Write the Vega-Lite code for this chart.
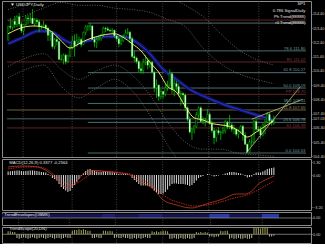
{
"$schema": "https://vega.github.io/schema/vega-lite/v6.json",
"background": "#000000",
"padding": 0,
"spacing": 2,
"bounds": "flush",
"resolve": {"scale": {"color": "independent", "fill": "independent"}},
"config": {
 "view": {"stroke": "#8a8a8a", "strokeWidth": 1, "fill": "#000000"},
 "axis": {"labelFont": "Liberation Sans", "labelFontSize": 3.8, "labelColor": "#c8c8c8", "tickColor": "#8a8a8a", "tickSize": 1, "labelPadding": 0.5, "domain": false, "grid": false, "title": null},
 "text": {"font": "Liberation Sans"},
 "legend": {"disable": true}
},
"datasets": {
 "sep": [{"i":6.75},{"i":28.9},{"i":49},{"i":69.8},{"i":90.6},{"i":113.2}],
 "c": [
 {"i":0,"o":112.55,"h":113.57,"l":112.52,"c":113.52,"m":0.35,"t":0.4},
 {"i":1,"o":113.52,"h":114.1,"l":113.3,"c":113.45,"m":0.38,"t":0.4},
 {"i":2,"o":113.45,"h":113.9,"l":113.25,"c":113.88,"m":0.40,"t":0.3},
 {"i":3,"o":113.88,"h":114.25,"l":113.4,"c":113.65,"m":0.42,"t":0.3},
 {"i":4,"o":113.65,"h":114.3,"l":113.45,"c":114.2,"m":0.45,"t":-0.5},
 {"i":5,"o":114.2,"h":114.45,"l":113.5,"c":113.68,"m":0.45,"t":-0.6},
 {"i":6,"o":113.68,"h":113.85,"l":113.05,"c":113.2,"m":0.40,"t":-0.5},
 {"i":7,"o":113.2,"h":113.7,"l":112.9,"c":113.65,"m":0.38,"t":-0.4},
 {"i":8,"o":113.65,"h":114.3,"l":113.55,"c":114.1,"m":0.40,"t":-0.5},
 {"i":9,"o":114.1,"h":114.3,"l":113.65,"c":114.05,"m":0.42,"t":-0.6},
 {"i":10,"o":114.05,"h":114.45,"l":113.75,"c":114.05,"m":0.45,"t":-0.5},
 {"i":11,"o":114.1,"h":114.73,"l":113.7,"c":113.7,"m":0.45,"t":-0.4},
 {"i":12,"o":113.7,"h":114.1,"l":113.5,"c":113.95,"m":0.42,"t":-0.5},
 {"i":13,"o":113.95,"h":114.1,"l":113.65,"c":113.85,"m":0.40,"t":-0.6},
 {"i":14,"o":113.85,"h":114.0,"l":113.1,"c":113.5,"m":0.35,"t":-0.5},
 {"i":15,"o":113.5,"h":113.65,"l":113.3,"c":113.5,"m":0.30,"t":-0.4},
 {"i":16,"o":113.5,"h":113.9,"l":113.4,"c":113.6,"m":0.28,"t":-0.5},
 {"i":17,"o":113.6,"h":113.7,"l":113.2,"c":113.4,"m":0.25,"t":-0.6},
 {"i":18,"o":113.4,"h":113.5,"l":112.5,"c":112.9,"m":0.10,"t":-0.5},
 {"i":19,"o":112.9,"h":113.2,"l":112.5,"c":113.05,"m":-0.05,"t":-0.4},
 {"i":20,"o":113.05,"h":113.2,"l":111.95,"c":112.1,"m":-0.30,"t":-0.5},
 {"i":21,"o":112.1,"h":112.7,"l":111.9,"c":112.6,"m":-0.40,"t":-0.6},
 {"i":22,"o":112.6,"h":112.85,"l":112.2,"c":112.45,"m":-0.55,"t":-0.5},
 {"i":23,"o":112.45,"h":112.5,"l":111.2,"c":111.2,"m":-0.90,"t":-0.5},
 {"i":24,"o":111.2,"h":111.55,"l":111.1,"c":111.2,"m":-1.20,"t":-0.6},
 {"i":25,"o":111.2,"h":111.6,"l":110.85,"c":111.5,"m":-1.40,"t":-0.5},
 {"i":26,"o":111.5,"h":111.6,"l":110.85,"c":111.05,"m":-1.55,"t":-0.4},
 {"i":27,"o":111.05,"h":111.55,"l":110.95,"c":111.45,"m":-1.70,"t":-0.5},
 {"i":28,"o":111.45,"h":112.2,"l":111.35,"c":112.0,"m":-1.60,"t":-0.5},
 {"i":29,"o":112.0,"h":112.85,"l":111.9,"c":112.5,"m":-1.30,"t":0.5},
 {"i":30,"o":112.5,"h":112.95,"l":111.4,"c":112.15,"m":-1.00,"t":0.6},
 {"i":31,"o":112.15,"h":113.0,"l":112.1,"c":112.5,"m":-0.70,"t":0.6},
 {"i":32,"o":112.5,"h":112.8,"l":112.3,"c":112.6,"m":-0.40,"t":0.7},
 {"i":33,"o":112.6,"h":112.7,"l":112.05,"c":112.25,"m":-0.10,"t":0.6},
 {"i":34,"o":112.25,"h":113.15,"l":112.2,"c":113.1,"m":0.20,"t":0.7},
 {"i":35,"o":113.1,"h":113.6,"l":112.9,"c":113.5,"m":0.40,"t":0.6},
 {"i":36,"o":113.5,"h":113.6,"l":113.2,"c":113.55,"m":0.55,"t":0.5},
 {"i":37,"o":113.55,"h":113.75,"l":113.25,"c":113.55,"m":0.60,"t":0.5},
 {"i":38,"o":113.55,"h":113.6,"l":112.6,"c":112.6,"m":0.50,"t":-0.5},
 {"i":39,"o":112.6,"h":112.8,"l":112.05,"c":112.4,"m":0.40,"t":-0.5},
 {"i":40,"o":112.4,"h":112.8,"l":112.0,"c":112.6,"m":0.35,"t":-0.4},
 {"i":41,"o":112.6,"h":112.9,"l":112.5,"c":112.65,"m":0.30,"t":-0.5},
 {"i":42,"o":112.65,"h":113.0,"l":112.5,"c":112.9,"m":0.30,"t":-0.5},
 {"i":43,"o":112.9,"h":113.5,"l":112.8,"c":113.4,"m":0.35,"t":0.5},
 {"i":44,"o":113.4,"h":113.5,"l":113.1,"c":113.35,"m":0.35,"t":0.5},
 {"i":45,"o":113.35,"h":113.5,"l":113.2,"c":113.25,"m":0.32,"t":0.4},
 {"i":46,"o":113.25,"h":113.35,"l":113.1,"c":113.2,"m":0.30,"t":0.5},
 {"i":47,"o":113.2,"h":113.4,"l":113.0,"c":113.25,"m":0.28,"t":0.4},
 {"i":48,"o":113.25,"h":113.3,"l":112.7,"c":112.85,"m":0.22,"t":-0.5},
 {"i":49,"o":112.85,"h":112.9,"l":112.5,"c":112.65,"m":0.18,"t":-0.4},
 {"i":50,"o":112.65,"h":112.8,"l":112.05,"c":112.3,"m":0.10,"t":-0.5},
 {"i":51,"o":112.3,"h":112.8,"l":112.2,"c":112.5,"m":0.08,"t":-0.5},
 {"i":52,"o":112.5,"h":112.95,"l":112.45,"c":112.75,"m":0.10,"t":-0.4},
 {"i":53,"o":112.75,"h":113.3,"l":112.7,"c":113.05,"m":0.12,"t":-0.5},
 {"i":54,"o":113.05,"h":113.4,"l":112.95,"c":113.1,"m":0.10,"t":-0.5},
 {"i":55,"o":113.1,"h":113.2,"l":112.35,"c":112.65,"m":0.00,"t":-0.6},
 {"i":56,"o":112.65,"h":112.8,"l":111.3,"c":111.4,"m":-0.30,"t":-0.6},
 {"i":57,"o":111.4,"h":111.8,"l":111.0,"c":111.3,"m":-0.50,"t":-0.5},
 {"i":58,"o":111.3,"h":111.4,"l":110.9,"c":111.05,"m":-0.70,"t":-0.6},
 {"i":59,"o":111.05,"h":111.15,"l":110.3,"c":110.55,"m":-0.90,"t":-0.5},
 {"i":60,"o":110.55,"h":110.95,"l":110.2,"c":110.4,"m":-1.05,"t":-0.6},
 {"i":61,"o":110.4,"h":111.25,"l":110.2,"c":111.0,"m":-1.05,"t":-0.5},
 {"i":62,"o":111.0,"h":111.5,"l":110.8,"c":111.1,"m":-1.05,"t":-0.4},
 {"i":63,"o":111.1,"h":111.3,"l":110.5,"c":110.8,"m":-1.10,"t":-0.5},
 {"i":64,"o":110.8,"h":111.2,"l":110.6,"c":111.0,"m":-1.15,"t":-0.5},
 {"i":65,"o":111.0,"h":111.1,"l":110.2,"c":110.3,"m":-1.30,"t":0.4},
 {"i":66,"o":110.3,"h":110.4,"l":108.9,"c":109.2,"m":-1.60,"t":0.3},
 {"i":67,"o":109.2,"h":109.8,"l":108.5,"c":109.4,"m":-1.75,"t":0.4},
 {"i":68,"o":109.4,"h":109.45,"l":108.3,"c":108.6,"m":-1.90,"t":0.3},
 {"i":69,"o":108.6,"h":109.1,"l":108.4,"c":108.95,"m":-1.90,"t":0.4},
 {"i":70,"o":108.95,"h":109.0,"l":108.45,"c":108.75,"m":-1.85,"t":0.5},
 {"i":71,"o":108.75,"h":109.5,"l":108.6,"c":109.2,"m":-1.70,"t":0.5},
 {"i":72,"o":109.2,"h":109.7,"l":109.0,"c":109.4,"m":-1.45,"t":0.4},
 {"i":73,"o":109.4,"h":110.5,"l":109.3,"c":110.2,"m":-1.10,"t":-0.6},
 {"i":74,"o":110.2,"h":110.3,"l":108.8,"c":109.1,"m":-0.90,"t":-0.6},
 {"i":75,"o":109.1,"h":109.8,"l":108.6,"c":109.5,"m":-0.85,"t":-0.5},
 {"i":76,"o":109.5,"h":109.7,"l":109.0,"c":109.3,"m":-0.85,"t":-0.6},
 {"i":77,"o":109.3,"h":109.5,"l":108.6,"c":108.8,"m":-0.90,"t":-0.6},
 {"i":78,"o":108.8,"h":109.0,"l":107.95,"c":108.8,"m":-0.90,"t":-0.5},
 {"i":79,"o":108.8,"h":108.9,"l":108.3,"c":108.7,"m":-0.90,"t":-0.6},
 {"i":80,"o":108.7,"h":108.8,"l":107.6,"c":107.8,"m":-0.95,"t":-0.6},
 {"i":81,"o":107.8,"h":107.9,"l":106.85,"c":107.0,"m":-1.00,"t":-0.5},
 {"i":82,"o":107.0,"h":107.2,"l":106.0,"c":106.1,"m":-1.10,"t":-0.6},
 {"i":83,"o":106.1,"h":106.4,"l":105.55,"c":106.3,"m":-1.00,"t":-0.6},
 {"i":84,"o":106.3,"h":106.6,"l":106.0,"c":106.5,"m":-0.80,"t":-0.5},
 {"i":85,"o":106.5,"h":107.5,"l":106.4,"c":107.3,"m":-0.55,"t":0.3},
 {"i":86,"o":107.3,"h":107.9,"l":107.1,"c":107.8,"m":-0.30,"t":0.2},
 {"i":87,"o":107.8,"h":107.9,"l":106.8,"c":106.85,"m":-0.20,"t":0.3},
 {"i":88,"o":106.85,"h":107.2,"l":106.65,"c":106.9,"m":-0.10,"t":0.2},
 {"i":89,"o":106.9,"h":107.1,"l":106.5,"c":106.95,"m":0.00,"t":0.3},
 {"i":90,"o":106.95,"h":107.7,"l":106.9,"c":107.35,"m":0.10,"t":0.2},
 {"i":91,"o":107.35,"h":107.5,"l":106.6,"c":106.7,"m":0.05,"t":-0.3},
 {"i":92,"o":106.7,"h":106.9,"l":106.05,"c":106.2,"m":-0.05,"t":-0.3},
 {"i":93,"o":106.2,"h":106.4,"l":105.25,"c":105.7,"m":-0.15,"t":-0.4},
 {"i":94,"o":105.7,"h":106.3,"l":105.4,"c":106.2,"m":-0.10,"t":-0.3},
 {"i":95,"o":106.2,"h":106.45,"l":105.9,"c":106.05,"m":-0.05,"t":-0.3},
 {"i":96,"o":106.05,"h":106.2,"l":105.55,"c":106.1,"m":0.00,"t":0.5},
 {"i":97,"o":106.1,"h":106.45,"l":105.95,"c":106.2,"m":0.05,"t":0.4},
 {"i":98,"o":106.2,"h":106.95,"l":106.0,"c":106.8,"m":0.15,"t":0.5},
 {"i":99,"o":106.8,"h":106.9,"l":106.3,"c":106.45,"m":0.20,"t":0.5},
 {"i":100,"o":106.45,"h":107.3,"l":106.3,"c":106.6,"m":0.30,"t":-0.6},
 {"i":101,"o":106.6,"h":106.75,"l":106.1,"c":106.3,"m":0.30,"t":-0.5},
 {"i":102,"o":106.3,"h":106.6,"l":105.95,"c":106.3,"m":0.30,"t":-0.6},
 {"i":103,"o":106.3,"h":106.35,"l":105.8,"c":105.95,"m":0.25,"t":-0.6},
 {"i":104,"o":105.95,"h":106.3,"l":105.65,"c":106.1,"m":0.20,"t":-0.5},
 {"i":105,"o":106.1,"h":106.6,"l":106.0,"c":106.5,"m":0.15,"t":-0.6},
 {"i":106,"o":106.5,"h":106.6,"l":105.5,"c":105.9,"m":0.05,"t":-0.6},
 {"i":107,"o":105.9,"h":106.1,"l":105.2,"c":105.25,"m":-0.10,"t":-0.5},
 {"i":108,"o":105.25,"h":105.3,"l":104.63,"c":104.7,"m":-0.25,"t":-0.6},
 {"i":109,"o":104.7,"h":105.6,"l":104.65,"c":105.4,"m":-0.20,"t":-0.6},
 {"i":110,"o":105.4,"h":105.9,"l":105.1,"c":105.4,"m":-0.15,"t":-0.5},
 {"i":111,"o":105.4,"h":106.95,"l":105.3,"c":106.85,"m":0.10,"t":1.0},
 {"i":112,"o":106.85,"h":107.0,"l":106.2,"c":106.3,"m":0.25,"t":0.9},
 {"i":113,"o":106.3,"h":106.5,"l":106.1,"c":106.25,"m":0.25,"t":1.0},
 {"i":114,"o":106.25,"h":106.5,"l":105.65,"c":105.9,"m":0.25,"t":0.8},
 {"i":115,"o":105.9,"h":106.7,"l":105.8,"c":106.6,"m":0.35,"t":1.0},
 {"i":116,"o":106.6,"h":107.0,"l":105.95,"c":106.8,"m":0.45,"t":1.0},
 {"i":117,"o":106.8,"h":107.5,"l":106.75,"c":107.35,"m":0.60,"t":0.9},
 {"i":118,"o":107.35,"h":107.45,"l":106.65,"c":106.9,"m":0.65,"t":-0.3},
 {"i":119,"o":106.9,"h":107.0,"l":106.55,"c":106.75,"m":0.70,"t":-0.3},
 {"i":120,"o":106.75,"h":107.25,"l":106.6,"c":107.03,"m":0.75,"t":-0.2}
 ],
 "ma": [
 {"i":0,"v":113.0},{"i":4,"v":113.3},{"i":8,"v":113.5},{"i":12,"v":113.55},{"i":16,"v":113.45},{"i":20,"v":113.1},{"i":24,"v":112.5},{"i":28,"v":112.0},{"i":32,"v":112.3},{"i":36,"v":112.6},{"i":40,"v":112.8},{"i":44,"v":112.95},{"i":48,"v":113.0},{"i":52,"v":112.75},{"i":56,"v":112.3},{"i":60,"v":111.8},{"i":64,"v":111.0},{"i":68,"v":110.3},{"i":72,"v":109.3},{"i":76,"v":108.9},{"i":80,"v":107.9},{"i":84,"v":107.1},{"i":88,"v":106.95},{"i":92,"v":106.7},{"i":96,"v":106.6},{"i":100,"v":106.5},{"i":104,"v":106.2},{"i":108,"v":105.75},{"i":112,"v":106.1},{"i":116,"v":106.5},{"i":120,"v":106.9}
 ],
 "blue": [
 {"i":0,"v":112.3},{"i":6,"v":112.7},{"i":14,"v":113.2},{"i":20,"v":113.1},{"i":26,"v":112.5},{"i":30,"v":112.3},{"i":36,"v":112.5},{"i":44,"v":112.8},{"i":52,"v":112.8},{"i":58,"v":112.4},{"i":64,"v":111.6},{"i":70,"v":110.5},{"i":76,"v":109.8},{"i":82,"v":109.1},{"i":90,"v":108.5},{"i":98,"v":108.0},{"i":104,"v":107.7},{"i":112,"v":107.3},{"i":120,"v":106.95}
 ],
 "band": [
 {"s":"u1","i":0,"v":113.9},{"s":"u1","i":8,"v":114.3},{"s":"u1","i":16,"v":114.8},{"s":"u1","i":24,"v":115.2},{"s":"u1","i":32,"v":115.0},{"s":"u1","i":40,"v":115.0},{"s":"u1","i":48,"v":114.8},{"s":"u1","i":56,"v":114.7},{"s":"u1","i":64,"v":114.5},{"s":"u1","i":72,"v":114.0},{"s":"u1","i":80,"v":113.5},{"s":"u1","i":88,"v":112.0},{"s":"u1","i":96,"v":110.9},{"s":"u1","i":104,"v":110.2},{"s":"u1","i":112,"v":109.8},{"s":"u1","i":120,"v":109.5},
 {"s":"u2","i":0,"v":114.7},{"s":"u2","i":8,"v":115.1},{"s":"u2","i":16,"v":115.6},{"s":"u2","i":24,"v":116.4},{"s":"u2","i":32,"v":116.3},{"s":"u2","i":40,"v":116.1},{"s":"u2","i":48,"v":115.8},{"s":"u2","i":56,"v":115.8},{"s":"u2","i":64,"v":115.9},{"s":"u2","i":72,"v":115.6},{"s":"u2","i":80,"v":115.0},{"s":"u2","i":88,"v":114.2},{"s":"u2","i":96,"v":113.0},{"s":"u2","i":104,"v":111.9},{"s":"u2","i":112,"v":111.2},{"s":"u2","i":120,"v":110.8},
 {"s":"l1","i":0,"v":110.7},{"s":"l1","i":8,"v":111.3},{"s":"l1","i":16,"v":111.6},{"s":"l1","i":24,"v":110.5},{"s":"l1","i":32,"v":109.8},{"s":"l1","i":40,"v":110.4},{"s":"l1","i":48,"v":110.8},{"s":"l1","i":56,"v":110.1},{"s":"l1","i":64,"v":108.7},{"s":"l1","i":72,"v":106.8},{"s":"l1","i":80,"v":105.4},{"s":"l1","i":88,"v":104.9},{"s":"l1","i":96,"v":104.9},{"s":"l1","i":104,"v":104.6},{"s":"l1","i":112,"v":104.5},{"s":"l1","i":120,"v":104.4},
 {"s":"l2","i":0,"v":109.9},{"s":"l2","i":8,"v":110.5},{"s":"l2","i":16,"v":110.8},{"s":"l2","i":24,"v":109.3},{"s":"l2","i":32,"v":108.5},{"s":"l2","i":40,"v":109.2},{"s":"l2","i":48,"v":109.8},{"s":"l2","i":56,"v":109.0},{"s":"l2","i":64,"v":107.3},{"s":"l2","i":72,"v":105.2},{"s":"l2","i":80,"v":103.6},{"s":"l2","i":88,"v":103.0},{"s":"l2","i":96,"v":103.0},{"s":"l2","i":104,"v":103.0},{"s":"l2","i":112,"v":103.0},{"s":"l2","i":120,"v":103.0}
 ],
 "lv": [
 {"i":-0.5,"p":113.96,"k":"piv","lab":""},
 {"i":36,"p":113.75,"k":"fib","lab":""},
 {"i":36,"p":111.80,"k":"fib","lab":"78.6 111.80"},
 {"i":-0.5,"p":111.02,"k":"piv","lab":"R1 111.02"},
 {"i":36,"p":110.27,"k":"fib","lab":"61.8 110.27"},
 {"i":36,"p":109.19,"k":"fib","lab":"50.0 109.19"},
 {"i":-0.5,"p":108.75,"k":"piv","lab":"PP 108.75"},
 {"i":36,"p":108.11,"k":"fib","lab":"38.2 108.11"},
 {"i":-0.5,"p":107.65,"k":"alt","lab":"61.8 107.65"},
 {"i":-0.5,"p":107.03,"k":"bid","lab":""},
 {"i":36,"p":106.78,"k":"fib","lab":"23.6 106.78"},
 {"i":-0.5,"p":106.39,"k":"piv","lab":"S1 106.39"},
 {"i":36,"p":104.63,"k":"fib","lab":"0.0 104.63"}
 ],
 "tl": [
 {"g":"a","i":107.5,"p":104.63},{"g":"a","i":132,"p":109.3},
 {"g":"b","i":110,"p":107.0},{"g":"b","i":133,"p":108.4}
 ],
 "txl": [{"i":1,"p":115.0,"t":"▼ USDJPY,Daily"}],
 "txr": [
 {"i":134.2,"p":115.08,"t":"SP1"},
 {"i":134.2,"p":114.62,"t":"0.786 SignalDaily"},
 {"i":134.2,"p":114.17,"t":"Ph Trend(88888)"},
 {"i":134.2,"p":113.74,"t":"r0 Trend(88888)"}
 ],
 "sig": [
 {"s":"S","i":0,"v":0.8},{"s":"S","i":6,"v":0.9},{"s":"S","i":12,"v":0.85},{"s":"S","i":16,"v":0.6},{"s":"S","i":20,"v":0.0},{"s":"S","i":24,"v":-0.9},{"s":"S","i":27,"v":-1.3},{"s":"S","i":30,"v":-0.9},{"s":"S","i":33,"v":-0.1},{"s":"S","i":36,"v":0.4},{"s":"S","i":40,"v":0.45},{"s":"S","i":46,"v":0.3},{"s":"S","i":52,"v":0.15},{"s":"S","i":55,"v":0.0},{"s":"S","i":58,"v":-0.5},{"s":"S","i":62,"v":-0.9},{"s":"S","i":66,"v":-1.5},{"s":"S","i":70,"v":-2.5},{"s":"S","i":76,"v":-3.0},{"s":"S","i":83,"v":-3.3},{"s":"S","i":88,"v":-3.0},{"s":"S","i":91,"v":-2.8},{"s":"S","i":97,"v":-2.4},{"s":"S","i":103,"v":-1.9},{"s":"S","i":107,"v":-1.9},{"s":"S","i":110,"v":-1.6},{"s":"S","i":113,"v":-0.9},{"s":"S","i":117,"v":-0.4},{"s":"S","i":120,"v":-0.1},
 {"s":"D","i":0,"v":0.6},{"s":"D","i":8,"v":0.8},{"s":"D","i":14,"v":0.8},{"s":"D","i":18,"v":0.5},{"s":"D","i":22,"v":-0.2},{"s":"D","i":26,"v":-0.8},{"s":"D","i":29,"v":-1.0},{"s":"D","i":32,"v":-0.7},{"s":"D","i":36,"v":-0.1},{"s":"D","i":40,"v":0.3},{"s":"D","i":46,"v":0.35},{"s":"D","i":52,"v":0.2},{"s":"D","i":56,"v":0.05},{"s":"D","i":60,"v":-0.4},{"s":"D","i":64,"v":-0.9},{"s":"D","i":68,"v":-1.6},{"s":"D","i":72,"v":-2.3},{"s":"D","i":78,"v":-2.8},{"s":"D","i":84,"v":-3.1},{"s":"D","i":90,"v":-3.0},{"s":"D","i":96,"v":-2.7},{"s":"D","i":102,"v":-2.3},{"s":"D","i":108,"v":-2.0},{"s":"D","i":112,"v":-1.6},{"s":"D","i":116,"v":-1.1},{"s":"D","i":120,"v":-0.6}
 ],
 "seg": [
 {"a":-0.5,"b":43,"z":"d"},{"a":43,"b":49,"z":"m"},{"a":49,"b":59,"z":"d"},{"a":59,"b":70,"z":"m"},{"a":70,"b":90,"z":"d"},{"a":90,"b":99,"z":"b"},{"a":99,"b":113,"z":"d"},{"a":113,"b":120.5,"z":"b"}
 ],
 "p2": [{"i":0.5,"v":0.77,"t":"TrendEnvelopes(OBMK)"}],
 "p3": [{"i":0.5,"v":0.72,"t":"TrendScope(20,DN)"}],
 "p1": [{"i":0.5,"v":1.25,"t":"MACD(12,26,9) 0.3377 -0.2564"}]
},
"vconcat": [
 {
  "width": 309, "height": 156,
  "encoding": {
   "y": {"type": "quantitative", "scale": {"domain": [104.35, 115.3], "nice": false, "zero": false},
    "axis": {"orient": "right", "values": [104.4, 105.4, 106.4, 107.03, 107.4, 108.4, 109.4, 110.4, 111.4, 112.4, 113.4, 114.4], "format": ".2f", "labelOverlap": false}}
  },
  "layer": [
   {"data": {"name": "sep"}, "mark": {"type": "rule", "color": "#6e6e6e", "strokeWidth": 0.6, "strokeDash": [1, 1.5]},
    "encoding": {"x": {"field": "i", "type": "quantitative", "scale": {"domain": [-0.5, 134.5], "nice": false, "zero": false}, "axis": null}, "y": null}},
   {"data": {"name": "band"}, "mark": {"type": "line", "color": "#9a9a9a", "strokeWidth": 0.6, "strokeDash": [1, 1.5], "interpolate": "monotone", "clip": true},
    "encoding": {"x": {"field": "i", "type": "quantitative", "scale": {"domain": [-0.5, 134.5], "nice": false, "zero": false}, "axis": null},
     "y": {"field": "v"}, "detail": {"field": "s"}}},
   {"data": {"name": "lv"}, "mark": {"type": "rule", "strokeWidth": 0.7},
    "encoding": {"x": {"field": "i", "type": "quantitative", "scale": {"domain": [-0.5, 134.5], "nice": false, "zero": false}, "axis": null},
     "x2": {"datum": 134.5},
     "y": {"field": "p"},
     "color": {"field": "k", "type": "nominal", "scale": {"domain": ["fib", "piv", "alt", "bid"], "range": ["#6c9c9c", "#8a3434", "#9c8c5c", "#778899"]}}}},
   {"data": {"name": "blue"}, "mark": {"type": "line", "color": "#14146e", "strokeWidth": 3.5, "interpolate": "monotone"},
    "encoding": {"x": {"field": "i", "type": "quantitative", "scale": {"domain": [-0.5, 134.5], "nice": false, "zero": false}, "axis": null},
     "y": {"field": "v"}}},
   {"data": {"name": "blue"}, "mark": {"type": "line", "color": "#2a40d8", "strokeWidth": 0.8, "interpolate": "monotone"},
    "encoding": {"x": {"field": "i", "type": "quantitative", "scale": {"domain": [-0.5, 134.5], "nice": false, "zero": false}, "axis": null},
     "y": {"field": "v"}}},
   {"data": {"name": "c"}, "mark": {"type": "rule", "color": "#00dd00", "strokeWidth": 0.7},
    "encoding": {"x": {"field": "i", "type": "quantitative", "scale": {"domain": [-0.5, 134.5], "nice": false, "zero": false}, "axis": null},
     "y": {"field": "l"}, "y2": {"field": "h"}}},
   {"data": {"name": "c"}, "mark": {"type": "bar", "width": 1.5, "stroke": "#00dd00", "strokeWidth": 0.4},
    "encoding": {"x": {"field": "i", "type": "quantitative", "scale": {"domain": [-0.5, 134.5], "nice": false, "zero": false}, "axis": null},
     "y": {"field": "o"}, "y2": {"field": "c"},
     "fill": {"condition": {"test": "datum.c < datum.o", "value": "#ffffff"}, "value": "#000000"}}},
   {"data": {"name": "ma"}, "mark": {"type": "line", "color": "#ffff70", "strokeWidth": 0.9, "interpolate": "monotone"},
    "encoding": {"x": {"field": "i", "type": "quantitative", "scale": {"domain": [-0.5, 134.5], "nice": false, "zero": false}, "axis": null},
     "y": {"field": "v"}}},
   {"data": {"name": "tl"}, "mark": {"type": "line", "color": "#d8d890", "strokeWidth": 0.7, "clip": true},
    "encoding": {"x": {"field": "i", "type": "quantitative", "scale": {"domain": [-0.5, 134.5], "nice": false, "zero": false}, "axis": null},
     "y": {"field": "p"}, "detail": {"field": "g"}}},
   {"data": {"name": "lv"}, "mark": {"type": "text", "align": "right", "baseline": "bottom", "dy": -0.3, "fontSize": 4.2},
    "encoding": {"x": {"datum": 134.2, "type": "quantitative", "scale": {"domain": [-0.5, 134.5], "nice": false, "zero": false}, "axis": null},
     "y": {"field": "p"}, "text": {"field": "lab"},
     "color": {"field": "k", "type": "nominal"}}},
   {"data": {"name": "txl"}, "mark": {"type": "text", "align": "left", "baseline": "middle", "fontSize": 4.4, "color": "#e8e8e8"},
    "encoding": {"x": {"field": "i", "type": "quantitative", "scale": {"domain": [-0.5, 134.5], "nice": false, "zero": false}, "axis": null},
     "y": {"field": "p"}, "text": {"field": "t"}}},
   {"data": {"name": "txr"}, "mark": {"type": "text", "align": "right", "baseline": "middle", "fontSize": 4.2, "color": "#e8e8e8"},
    "encoding": {"x": {"field": "i", "type": "quantitative", "scale": {"domain": [-0.5, 134.5], "nice": false, "zero": false}, "axis": null},
     "y": {"field": "p"}, "text": {"field": "t"}}}
  ]
 },
 {
  "width": 309, "height": 51,
  "encoding": {
   "y": {"type": "quantitative", "scale": {"domain": [-3.5, 1.6], "nice": false, "zero": false},
    "axis": {"orient": "right", "values": [1.3, 0, -3.2], "format": ".2f"}}
  },
  "layer": [
   {"data": {"name": "sep"}, "mark": {"type": "rule", "color": "#6e6e6e", "strokeWidth": 0.6, "strokeDash": [1, 1.5]},
    "encoding": {"x": {"field": "i", "type": "quantitative", "scale": {"domain": [-0.5, 134.5], "nice": false, "zero": false}, "axis": null}, "y": null}},
   {"data": {"name": "c"}, "mark": {"type": "bar", "width": 1.0, "color": "#d8d8d8"},
    "encoding": {"x": {"field": "i", "type": "quantitative", "scale": {"domain": [-0.5, 134.5], "nice": false, "zero": false}, "axis": null},
     "y": {"field": "m"}, "y2": {"datum": 0}}},
   {"data": {"name": "sig"}, "transform": [{"filter": "datum.s == 'S'"}], "mark": {"type": "line", "color": "#b8401c", "strokeWidth": 0.8, "interpolate": "monotone"},
    "encoding": {"x": {"field": "i", "type": "quantitative", "scale": {"domain": [-0.5, 134.5], "nice": false, "zero": false}, "axis": null},
     "y": {"field": "v"}}},
   {"data": {"name": "sig"}, "transform": [{"filter": "datum.s == 'D'"}], "mark": {"type": "line", "color": "#ff3030", "strokeWidth": 0.7, "strokeDash": [1.5, 1], "interpolate": "monotone"},
    "encoding": {"x": {"field": "i", "type": "quantitative", "scale": {"domain": [-0.5, 134.5], "nice": false, "zero": false}, "axis": null},
     "y": {"field": "v"}}},
   {"data": {"name": "p1"}, "mark": {"type": "text", "align": "left", "baseline": "middle", "fontSize": 4.2, "color": "#e0e0e0"},
    "encoding": {"x": {"field": "i", "type": "quantitative", "scale": {"domain": [-0.5, 134.5], "nice": false, "zero": false}, "axis": null},
     "y": {"field": "v"}, "text": {"field": "t"}}}
  ]
 },
 {
  "width": 309, "height": 13,
  "encoding": {
   "y": {"type": "quantitative", "scale": {"domain": [0, 1], "nice": false, "zero": false},
    "axis": {"orient": "right", "values": [0.54], "labelExpr": "'0.00'"}}
  },
  "layer": [
   {"data": {"name": "sep"}, "mark": {"type": "rule", "color": "#6e6e6e", "strokeWidth": 0.6, "strokeDash": [1, 1.5]},
    "encoding": {"x": {"field": "i", "type": "quantitative", "scale": {"domain": [-0.5, 134.5], "nice": false, "zero": false}, "axis": null}, "y": null}},
   {"data": {"name": "seg"}, "mark": {"type": "rect"},
    "encoding": {"x": {"field": "a", "type": "quantitative", "scale": {"domain": [-0.5, 134.5], "nice": false, "zero": false}, "axis": null},
     "x2": {"field": "b"},
     "y": {"datum": 0.54}, "y2": {"datum": 0.86},
     "color": {"field": "z", "type": "nominal", "scale": {"domain": ["d", "m", "b"], "range": ["#14144e", "#1e1e72", "#2a3aa8"]}}}},
   {"data": {"values": [{}]}, "mark": {"type": "rule", "color": "#8a8a8a", "strokeWidth": 0.8},
    "encoding": {"y": {"datum": 0.54}}},
   {"data": {"name": "p2"}, "mark": {"type": "text", "align": "left", "baseline": "middle", "fontSize": 4.2, "color": "#e0e0e0"},
    "encoding": {"x": {"field": "i", "type": "quantitative", "scale": {"domain": [-0.5, 134.5], "nice": false, "zero": false}, "axis": null},
     "y": {"field": "v"}, "text": {"field": "t"}}}
  ]
 },
 {
  "width": 309, "height": 16,
  "encoding": {
   "y": {"type": "quantitative", "scale": {"domain": [-1.2, 1.0], "nice": false, "zero": false},
    "axis": {"orient": "right", "values": [0], "labelExpr": "'0.00'"}}
  },
  "layer": [
   {"data": {"name": "sep"}, "mark": {"type": "rule", "color": "#6e6e6e", "strokeWidth": 0.6, "strokeDash": [1, 1.5]},
    "encoding": {"x": {"field": "i", "type": "quantitative", "scale": {"domain": [-0.5, 134.5], "nice": false, "zero": false},
     "axis": {"orient": "bottom", "values": [0, 8, 16, 24, 32, 40, 48, 56, 64, 72, 80, 88, 96, 104, 112],
      "labelExpr": "['20 Oct 2017','1 Nov 2017','13 Nov 2017','23 Nov 2017','5 Dec 2017','15 Dec 2017','28 Dec 2017','10 Jan 2018','22 Jan 2018','1 Feb 2018','13 Feb 2018','23 Feb 2018','7 Mar 2018','19 Mar 2018','29 Mar 2018'][round(datum.value/8)]",
      "labelAlign": "left", "labelFlush": false, "labelOverlap": false, "labelFontSize": 4.2, "tickSize": 2, "labelPadding": 1}}, "y": null}},
   {"data": {"values": [{}]}, "mark": {"type": "rule", "color": "#8a8a8a", "strokeWidth": 0.8},
    "encoding": {"y": {"datum": 0}}},
   {"data": {"name": "c"}, "mark": {"type": "bar", "width": 1.0},
    "encoding": {"x": {"field": "i", "type": "quantitative", "scale": {"domain": [-0.5, 134.5], "nice": false, "zero": false}, "axis": null},
     "y": {"field": "t"}, "y2": {"datum": 0},
     "fill": {"condition": {"test": "datum.t > 0", "value": "#a3a35a"}, "value": "#b8b896"}}},
   {"data": {"name": "p3"}, "mark": {"type": "text", "align": "left", "baseline": "middle", "fontSize": 4.2, "color": "#e0e0e0"},
    "encoding": {"x": {"field": "i", "type": "quantitative", "scale": {"domain": [-0.5, 134.5], "nice": false, "zero": false}, "axis": null},
     "y": {"field": "v"}, "text": {"field": "t"}}}
  ]
 }
]
}
